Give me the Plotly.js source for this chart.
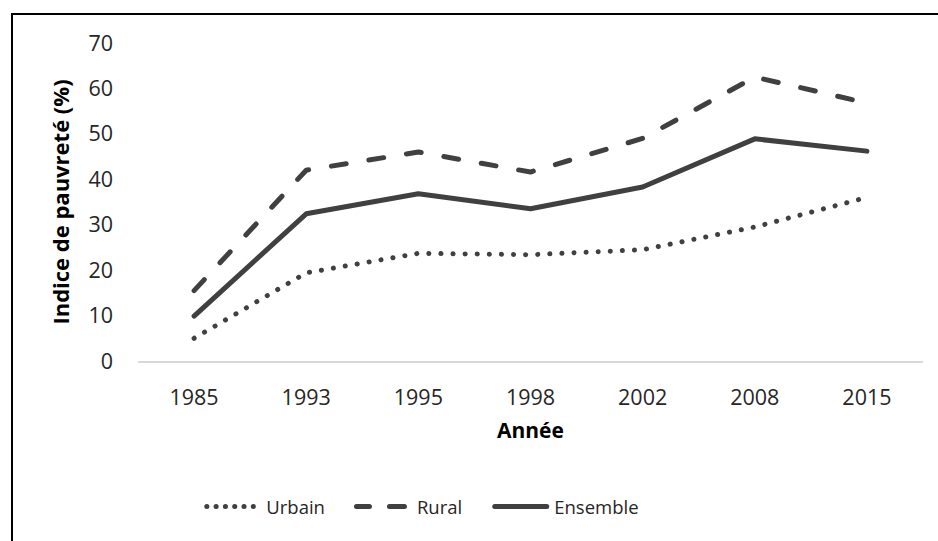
<!DOCTYPE html>
<html>
<head>
<meta charset="utf-8">
<script src="https://cdn.plot.ly/plotly-3.0.1.min.js"></script>
<style>
  html, body { margin: 0; padding: 0; background: #fff; }
  #wrap { position: relative; width: 938px; height: 541px; overflow: hidden; }
  #chart { width: 938px; height: 541px; }
  #frame { position: absolute; left: 11px; top: 13px; width: 1000px; height: 1000px;
           border-left: 2px solid #000; border-top: 2px solid #000; pointer-events: none; }
  path.js-line, .legendlines path { stroke-linecap: round; stroke-linejoin: round; }
  g.g-ytitle { transform: translate(-4px, 0px); }
</style>
</head>
<body>
<div id="wrap">
  <div id="chart"></div>
  <div id="frame"></div>
</div>
<script>
const years = ['1985', '1993', '1995', '1998', '2002', '2008', '2015'];
const urbain = [5.0, 19.4, 23.7, 23.4, 24.5, 29.5, 36.0];
const rural = [15.5, 42.0, 46.0, 41.6, 49.0, 62.5, 56.8];
const ensemble = [9.9, 32.4, 36.8, 33.5, 38.3, 48.9, 46.2];
const seriesNames = ['Urbain', 'Rural', 'Ensemble'];

const col = '#404040';
const traces = [
  { x: years, y: urbain, name: seriesNames[0], type: 'scatter', mode: 'lines',
    line: { color: col, width: 5, dash: '0.1px,12px' } },
  { x: years, y: rural, name: seriesNames[1], type: 'scatter', mode: 'lines',
    line: { color: col, width: 5, dash: '15px,23px' } },
  { x: years, y: ensemble, name: seriesNames[2], type: 'scatter', mode: 'lines',
    line: { color: col, width: 5 } }
];

const titleFont = { size: 22, color: '#000', family: 'Open Sans, sans-serif', weight: 'bold' };
const layout = {
  width: 938, height: 541,
  margin: { l: 138, r: 15, t: 43, b: 180 },
  paper_bgcolor: '#fff', plot_bgcolor: '#fff',
  font: { family: 'Open Sans, sans-serif', size: 21.5, color: '#262626' },
  showlegend: true,
  legend: {
    orientation: 'h', xref: 'container', yref: 'container',
    x: 0.439, xanchor: 'center', y: 0.063, yanchor: 'middle',
    font: { size: 18.5, color: '#262626' }, traceorder: 'normal',
    itemwidth: 77
  },
  xaxis: {
    type: 'category', range: [-0.5, 6.5], fixedrange: true,
    showgrid: false, zeroline: false, showline: true, linecolor: '#d9d9d9', linewidth: 2,
    ticks: '', ticklabelstandoff: 16,
    title: { text: 'Année', font: Object.assign({}, titleFont, { size: 21 }), standoff: 14 }
  },
  yaxis: {
    range: [0, 70], dtick: 10, fixedrange: true,
    showgrid: false, zeroline: false, showline: false,
    ticks: '', ticklabelstandoff: 24,
    title: { text: 'Indice de pauvreté (%)', font: titleFont, standoff: 8 }
  }
};

// legend sample geometry: [start offset from text, length, dash]
const legendSample = [
  [-59.5, 47, '0.1px,9.2px'],
  [-60.5, 48, '13px,20px,15px,20px'],
  [-59.5, 52, '']
];

Plotly.newPlot('chart', traces, layout, { staticPlot: true, displayModeBar: false }).then(function (gd) {
  const items = gd.querySelectorAll('.legend .traces');
  items.forEach(function (item, i) {
    const txt = item.querySelector('.legendtext');
    const tx = parseFloat(txt.getAttribute('x')) || 0;
    const s = legendSample[i];
    item.querySelectorAll('.legendlines path').forEach(function (p) {
      p.setAttribute('d', 'M' + (tx + s[0]) + ',0h' + s[1]);
      if (s[2]) p.style.strokeDasharray = s[2];
    });
  });
});
</script>
</body>
</html>
